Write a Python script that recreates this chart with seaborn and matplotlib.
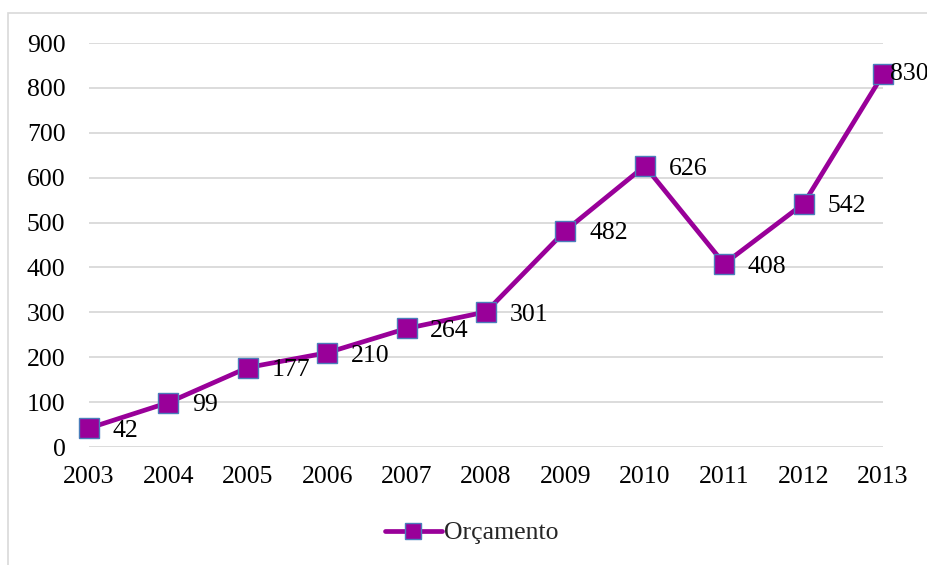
import matplotlib
matplotlib.use("Agg")
import matplotlib.pyplot as plt
import seaborn as sns
import pandas as pd
from matplotlib.patches import Rectangle
from matplotlib.lines import Line2D

years = [2003, 2004, 2005, 2006, 2007, 2008, 2009, 2010, 2011, 2012, 2013]
values = [42, 99, 177, 210, 264, 301, 482, 626, 408, 542, 830]
series_name = "Orçamento"
yticks = [0, 100, 200, 300, 400, 500, 600, 700, 800, 900]

sns.set_theme(style="white")
plt.rcParams['font.family'] = ['Liberation Serif', 'DejaVu Serif']

df = pd.DataFrame({"Ano": years, "Valor": values, "Série": series_name})

FS = 18.5
W, H = 928, 565
fig = plt.figure(figsize=(W / 100, H / 100), dpi=100)
fig.patches.append(Rectangle((8 / W, -0.1), 1.2, 1 - 13 / H + 0.1, transform=fig.transFigure,
                             fill=False, edgecolor="#d9d9d9", linewidth=1.2))
ax = fig.add_axes([89 / W, 1 - 447 / H, (883 - 89) / W, (447 - 43) / H])

line_color = "#990099"
sns.lineplot(data=df, x="Ano", y="Valor", hue="Série", palette=[line_color], ax=ax,
             linewidth=3.4, marker="s", markersize=15, markeredgecolor="#4a7ebb",
             markeredgewidth=1.0, legend=False, clip_on=False, zorder=3)

for i, (x, y) in enumerate(zip(years, values)):
    dx = 17 if i < len(years) - 1 else 5
    dy = -2 if i < len(years) - 1 else 0
    ax.annotate(str(y), (x, y), xytext=(dx, dy), textcoords="offset points",
                ha="left", va="center", fontsize=FS, color="black", annotation_clip=False)

ax.set_xlim(2003, 2013)
ax.set_ylim(0, 900)
ax.set_yticks(yticks)
ax.set_xticks(years)
ax.set_xticklabels([str(y) for y in years])
ax.grid(axis="y", color="#d9d9d9", linewidth=1.3)
ax.grid(axis="x", visible=False)
for s in ax.spines.values():
    s.set_visible(False)
ax.tick_params(axis="both", length=0, labelsize=FS, colors="black")
ax.tick_params(axis="y", pad=17)
ax.tick_params(axis="x", pad=14)
ax.set_xlabel("")
ax.set_ylabel("")

handle = Line2D([0], [0], color=line_color, linewidth=3.4, marker="s", markersize=11,
                markeredgecolor="#4a7ebb", markeredgewidth=1.0)
fig.legend([handle], [series_name], loc="center", bbox_to_anchor=(472 / W, 1 - 533 / H),
           frameon=False, fontsize=FS, handlelength=2.2, handletextpad=0.1)

fig.savefig("out.png", dpi=100)
